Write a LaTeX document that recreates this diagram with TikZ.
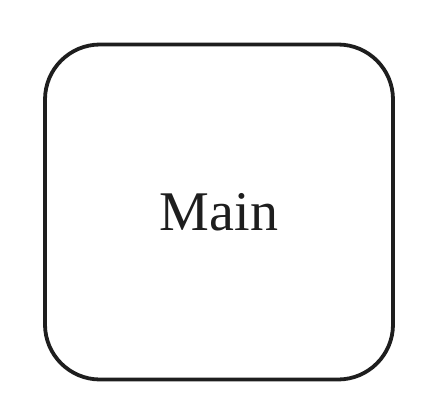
\documentclass[tikz,border=0pt]{standalone}
\usepackage{fontspec}
\setmainfont{Liberation Serif}
\definecolor{ink}{HTML}{1E1E1E}
\tikzset{
  mainbox/.style={draw=ink, line width=3.8pt, rounded corners=55pt,
    minimum width=348pt, minimum height=335pt, inner sep=0pt,
    text=ink, font=\fontsize{56pt}{60pt}\selectfont}
}
\begin{document}
\begin{tikzpicture}[x=1pt,y=1pt]
  \useasboundingbox (0,0) rectangle (430,416);
  \node[mainbox] (main) at (219,204) {Main};
\end{tikzpicture}
\end{document}
